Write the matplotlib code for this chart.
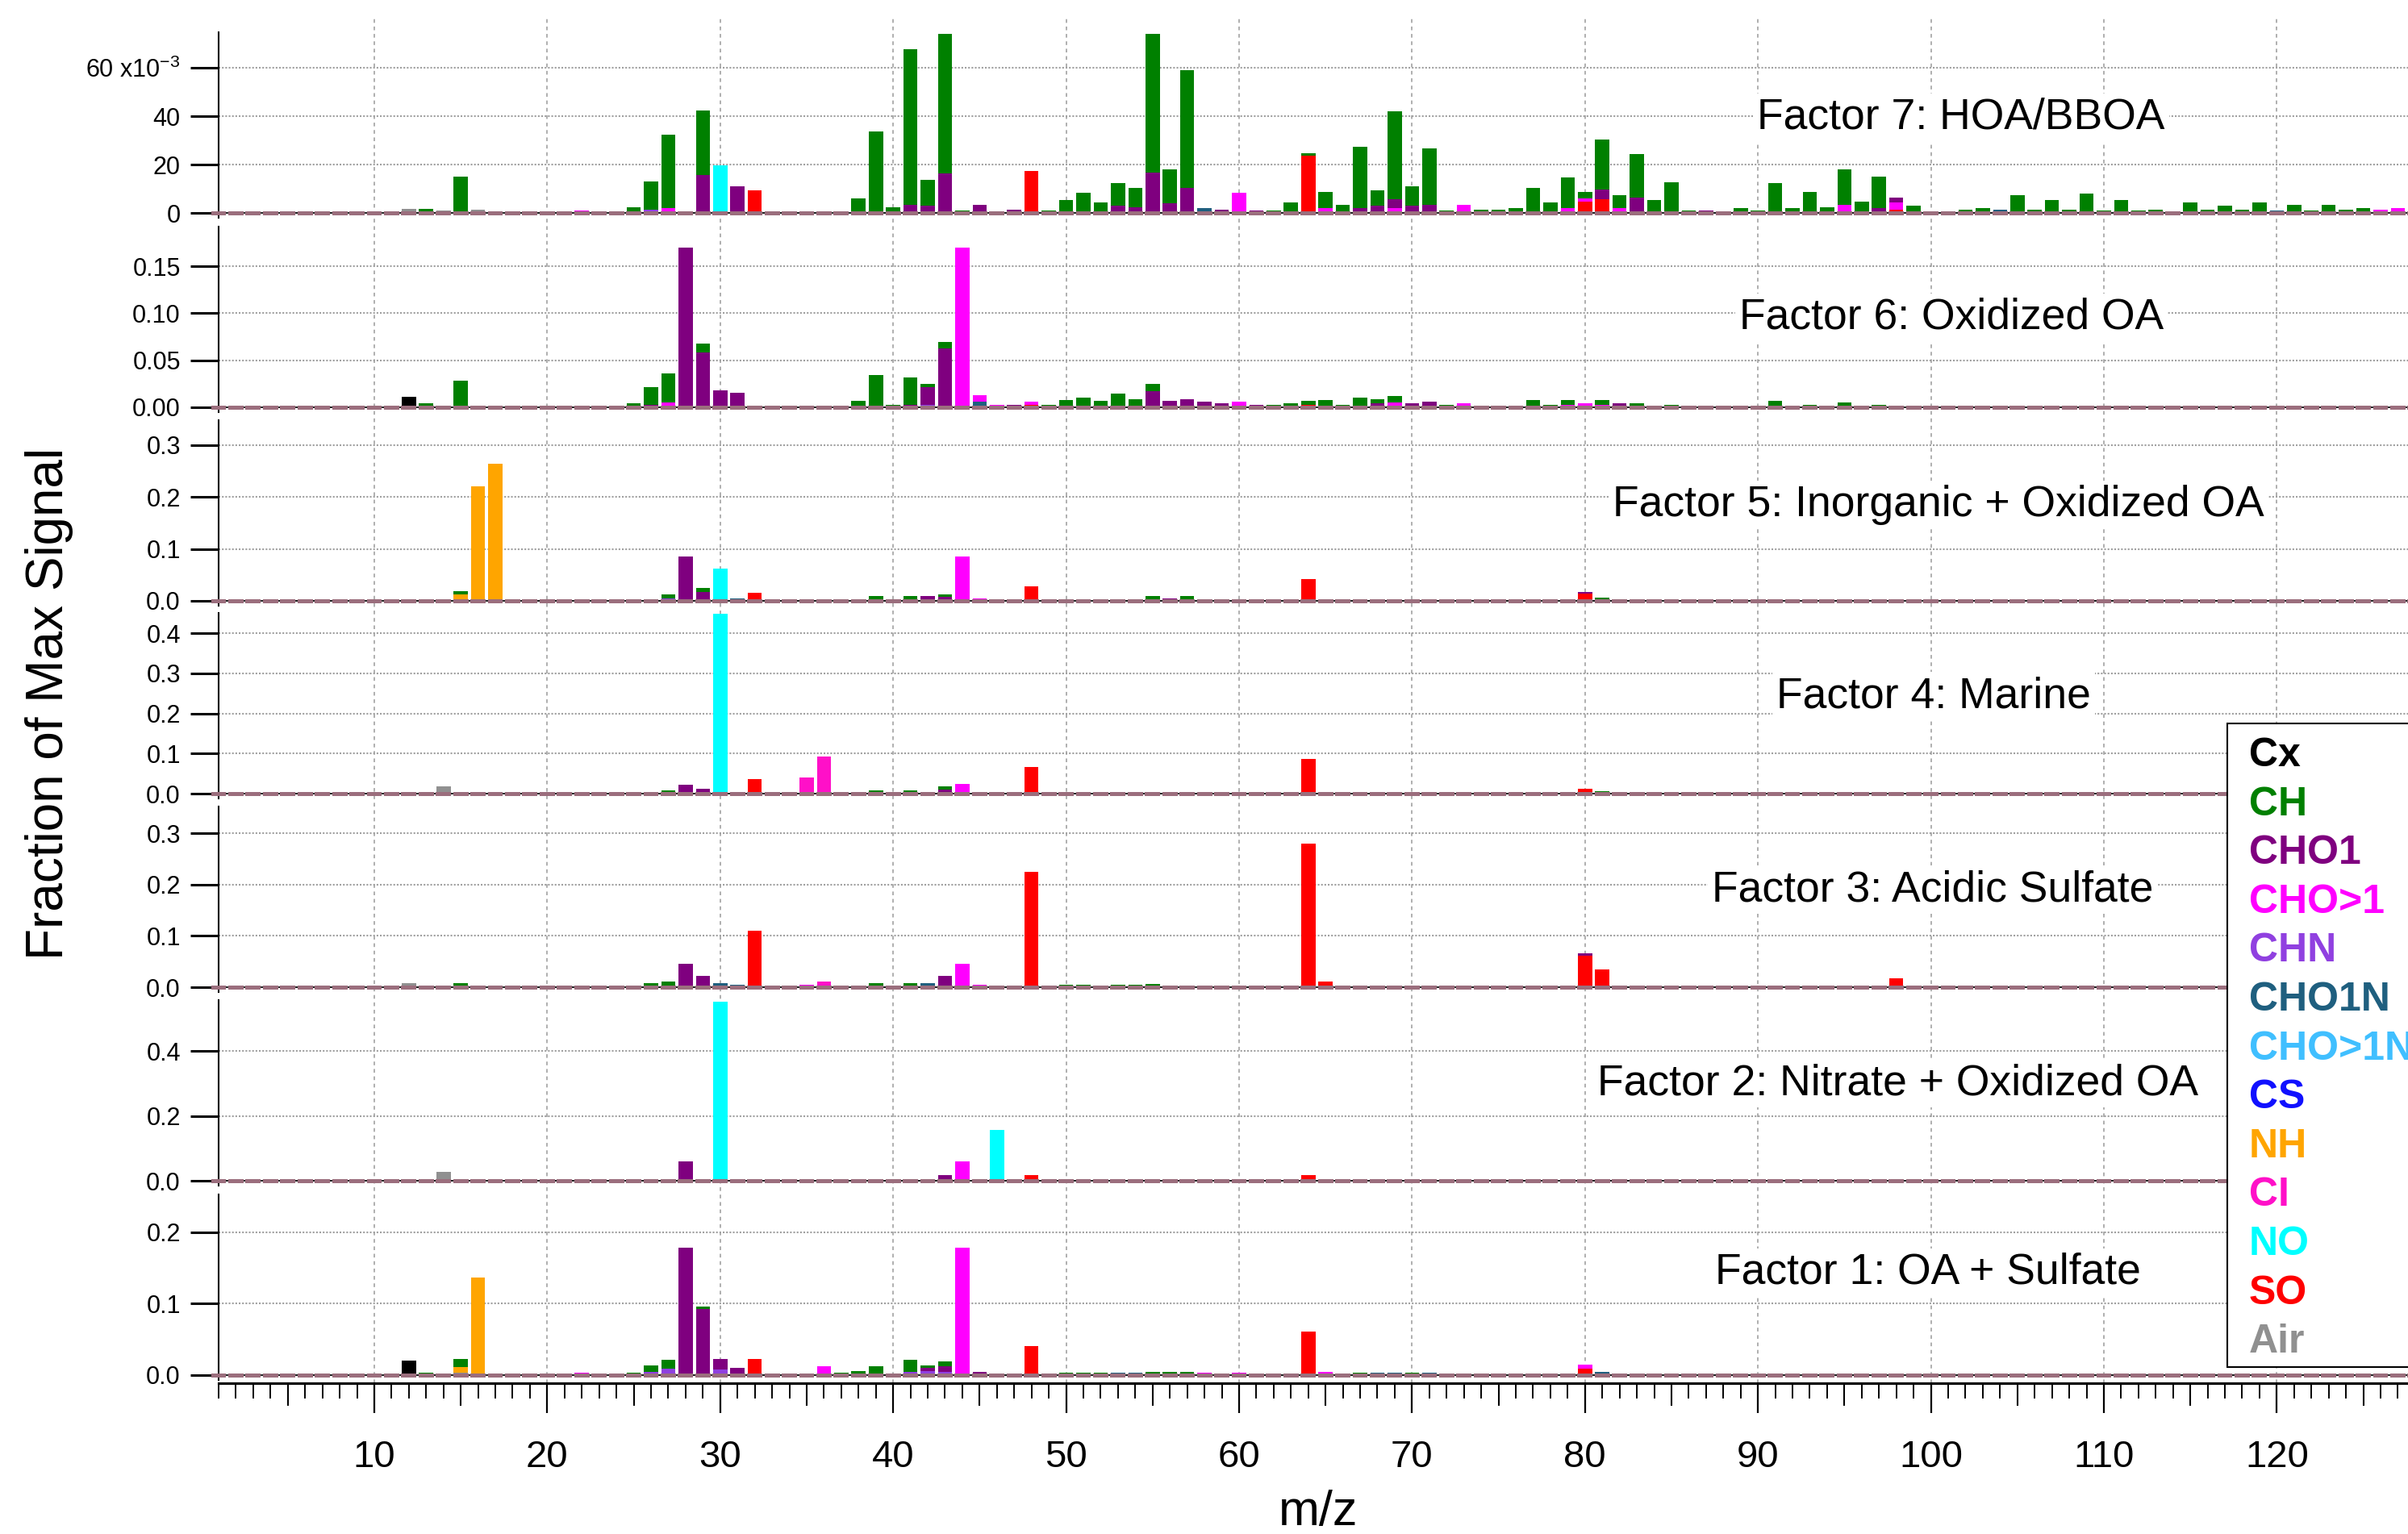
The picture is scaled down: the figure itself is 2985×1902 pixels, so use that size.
import numpy as np
import matplotlib
matplotlib.use('Agg')
import matplotlib.pyplot as plt
from matplotlib.patches import Rectangle

plt.rcParams['font.family'] = ['Liberation Sans', 'DejaVu Sans']
plt.rcParams['mathtext.fontset'] = 'custom'
plt.rcParams['mathtext.rm'] = 'Liberation Sans'

# ion families (legend order) and colours
families = ['Cx', 'CH', 'CHO1', 'CHO>1', 'CHN', 'CHO1N', 'CHO>1N', 'CS', 'NH', 'CI', 'NO', 'SO', 'Air']
family_colors = ['#000000', '#008000', '#7f007f', '#ff00ff', '#9040e0', '#1f5f7f', '#40bfff',
                 '#1010ff', '#ffa500', '#ff10c8', '#00ffff', '#ff0000', '#909090']
# bottom -> top stacking order
stack_order = ['Air', 'SO', 'NO', 'CI', 'NH', 'CS', 'CHO>1N', 'CHO1N', 'CHN', 'CHO>1', 'CHO1', 'CH', 'Cx']

# factor profiles: (m/z, family, fraction of max signal)
f7_peaks = [
	(12, 'Air', 0.0018), (13, 'CH', 0.0018), (14, 'Air', 0.001), (15, 'CH', 0.0151), (16, 'Air', 0.0015),
	(22, 'CHO>1', 0.001), (25, 'CH', 0.0025), (26, 'CHN', 0.0015), (26, 'CH', 0.0114),
	(27, 'CHO>1', 0.002), (27, 'CH', 0.0305), (29, 'CHO1', 0.0157), (29, 'CH', 0.0267),
	(30, 'NO', 0.0198), (31, 'CHO1', 0.011), (32, 'SO', 0.0095), (38, 'CH', 0.006), (39, 'CH', 0.0338),
	(40, 'CH', 0.0022), (41, 'CHO1', 0.0035), (41, 'CH', 0.0641), (42, 'CHO1', 0.003), (42, 'CH', 0.0107),
	(43, 'CHO1', 0.0162), (43, 'CH', 0.0578), (44, 'CH', 0.001), (45, 'CHO1', 0.0035), (47, 'CHO1', 0.0015),
	(48, 'SO', 0.0172), (49, 'CH', 0.001), (50, 'CH', 0.0052), (51, 'CH', 0.0082), (52, 'CH', 0.0044),
	(53, 'CHO1', 0.003), (53, 'CH', 0.0094), (54, 'CHO1', 0.0025), (54, 'CH', 0.0077),
	(55, 'CHO1', 0.0168), (55, 'CH', 0.0572), (56, 'CHO1', 0.004), (56, 'CH', 0.0141),
	(57, 'CHO1', 0.0104), (57, 'CH', 0.0486), (58, 'CHO1N', 0.002), (59, 'CHO1', 0.0015),
	(60, 'CHO>1', 0.0082), (61, 'CHO1', 0.001), (62, 'CH', 0.001), (63, 'CH', 0.0044),
	(64, 'SO', 0.0238), (64, 'CH', 0.001), (65, 'CHO>1', 0.002), (65, 'CH', 0.0068), (66, 'CH', 0.0035),
	(67, 'CHO1', 0.002), (67, 'CH', 0.0253), (68, 'CHO1', 0.003), (68, 'CH', 0.0065),
	(69, 'CHO>1', 0.002), (69, 'CHO1', 0.0037), (69, 'CH', 0.0362), (70, 'CHO1', 0.003), (70, 'CH', 0.008),
	(71, 'CHO1', 0.0035), (71, 'CH', 0.0232), (72, 'CH', 0.001), (73, 'CHO>1', 0.0035),
	(74, 'CH', 0.0015), (75, 'CH', 0.0015), (76, 'CH', 0.002), (77, 'CH', 0.0102), (78, 'CH', 0.0044),
	(79, 'CHO>1', 0.002), (79, 'CH', 0.0126), (80, 'SO', 0.0046), (80, 'CHO>1', 0.0015), (80, 'CH', 0.0027),
	(81, 'SO', 0.0057), (81, 'CHO1', 0.004), (81, 'CH', 0.0206), (82, 'CHO>1', 0.002), (82, 'CH', 0.0054),
	(83, 'CHO1', 0.0063), (83, 'CH', 0.0182), (84, 'CH', 0.0052), (85, 'CH', 0.0128), (86, 'CH', 0.001),
	(87, 'CHO1', 0.001), (89, 'CH', 0.002), (90, 'CH', 0.001), (91, 'CH', 0.0124), (92, 'CH', 0.002),
	(93, 'CH', 0.0087), (94, 'CH', 0.0025), (95, 'CHO>1', 0.0035), (95, 'CH', 0.0146), (96, 'CH', 0.0046),
	(97, 'CHO1', 0.002), (97, 'CH', 0.0131), (98, 'SO', 0.0015), (98, 'CHO1', 0.002), (98, 'CHO>1', 0.003),
	(99, 'CH', 0.003), (102, 'CH', 0.0015), (103, 'CH', 0.002), (104, 'CHO1N', 0.0015), (105, 'CH', 0.0072),
	(106, 'CH', 0.0015), (107, 'CH', 0.0052), (108, 'CH', 0.0015), (109, 'CH', 0.008), (110, 'CH', 0.001),
	(111, 'CH', 0.0052), (112, 'CH', 0.001), (113, 'CH', 0.0015), (115, 'CH', 0.0044), (116, 'CH', 0.0015),
	(117, 'CH', 0.003), (118, 'CH', 0.0015), (119, 'CH', 0.0044), (120, 'CHO1N', 0.001), (121, 'CH', 0.0035),
	(122, 'CH', 0.001), (123, 'CH', 0.0035), (124, 'CH', 0.0012), (125, 'CH', 0.002), (126, 'CHO>1', 0.0012),
	(127, 'CHO>1', 0.002),
]
f6_peaks = [
	(12, 'Cx', 0.0114), (13, 'CH', 0.004), (15, 'CHO>1', 0.001), (15, 'CH', 0.0276), (25, 'CH', 0.004),
	(26, 'CHO1', 0.003), (26, 'CH', 0.0184), (27, 'CHO>1', 0.005), (27, 'CH', 0.0307), (28, 'CHO1', 0.17),
	(29, 'CHO1', 0.0586), (29, 'CH', 0.009), (30, 'CHO1', 0.018), (31, 'CHO1', 0.0151), (32, 'SO', 0.002),
	(36, 'CHO>1', 0.001), (37, 'CH', 0.001), (38, 'CH', 0.0066), (39, 'CH', 0.0343), (40, 'CH', 0.003),
	(41, 'CHO1', 0.003), (41, 'CH', 0.0284), (42, 'CHN', 0.003), (42, 'CHO1', 0.0184), (42, 'CH', 0.0036),
	(43, 'CHO1', 0.0629), (43, 'CH', 0.0065), (44, 'CHO>1', 0.17), (45, 'CHO>1', 0.007), (45, 'CHO1N', 0.006),
	(46, 'CHO>1', 0.003), (47, 'CHO1', 0.003), (48, 'SO', 0.003), (48, 'CHO>1', 0.003), (49, 'CH', 0.003),
	(50, 'CH', 0.008), (51, 'CH', 0.0106), (52, 'CH', 0.0066), (53, 'CH', 0.0143), (54, 'CH', 0.0086),
	(55, 'CHO1', 0.017), (55, 'CH', 0.008), (56, 'CHO1', 0.0066), (57, 'CHO1', 0.0086), (58, 'CHO1', 0.006),
	(59, 'CHO1', 0.004), (60, 'CHO>1', 0.0057), (61, 'CHO1', 0.003), (62, 'CH', 0.003), (63, 'CH', 0.004),
	(64, 'SO', 0.003), (64, 'CH', 0.0036), (65, 'CH', 0.0077), (66, 'CH', 0.003), (67, 'CH', 0.01),
	(68, 'CHO1', 0.004), (68, 'CH', 0.0046), (69, 'CHO>1', 0.005), (69, 'CH', 0.007), (70, 'CHO1', 0.004),
	(71, 'CHO1', 0.006), (72, 'CH', 0.003), (73, 'CHO>1', 0.004), (74, 'CH', 0.002), (75, 'CH', 0.002),
	(76, 'CH', 0.002), (77, 'CH', 0.0077), (78, 'CH', 0.003), (79, 'CHO>1', 0.003), (79, 'CH', 0.0047),
	(80, 'CHO>1', 0.004), (81, 'CHO>1', 0.003), (81, 'CH', 0.0047), (82, 'CHO1', 0.004), (83, 'CH', 0.004),
	(84, 'CH', 0.002), (85, 'CH', 0.003), (87, 'CHO1', 0.002), (91, 'CH', 0.0071), (92, 'CH', 0.002),
	(93, 'CH', 0.003), (95, 'CHO>1', 0.002), (95, 'CH', 0.003), (96, 'CH', 0.002), (97, 'CH', 0.003),
	(98, 'CHO>1', 0.002), (103, 'CH', 0.002), (105, 'CH', 0.002), (107, 'CH', 0.002), (109, 'CH', 0.002),
	(111, 'CH', 0.002), (115, 'CH', 0.002), (117, 'CH', 0.002), (119, 'CH', 0.002), (121, 'CH', 0.002),
	(123, 'CH', 0.002), (127, 'CHO>1', 0.002),
]
f5_peaks = [
	(14, 'CHO>1', 0.002), (15, 'NH', 0.012), (15, 'CH', 0.006), (16, 'NH', 0.22), (17, 'NH', 0.264),
	(26, 'CH', 0.003), (27, 'CHN', 0.004), (27, 'CH', 0.0084), (28, 'CHO1', 0.0855), (29, 'CHO1', 0.0166),
	(29, 'CH', 0.0084), (30, 'NO', 0.0617), (31, 'CHO1N', 0.004), (32, 'SO', 0.0155), (37, 'CH', 0.003),
	(38, 'CH', 0.003), (39, 'CH', 0.0088), (40, 'CH', 0.003), (41, 'CHO1', 0.003), (41, 'CH', 0.0058),
	(42, 'CHO1', 0.0088), (43, 'CHO1', 0.008), (43, 'CH', 0.0044), (44, 'CHO>1', 0.0855), (45, 'CHO>1', 0.004),
	(48, 'SO', 0.028), (54, 'CH', 0.003), (55, 'CH', 0.0088), (56, 'CHO1', 0.004), (57, 'CH', 0.0088),
	(64, 'SO', 0.0425), (65, 'CHO>1', 0.003), (69, 'CH', 0.003), (71, 'CH', 0.003), (80, 'SO', 0.0136),
	(80, 'CHO1', 0.004), (81, 'CH', 0.006), (83, 'CH', 0.003), (85, 'CH', 0.003), (97, 'CH', 0.003),
	(98, 'CHO>1', 0.003),
]
f4_peaks = [
	(12, 'Air', 0.003), (14, 'Air', 0.019), (15, 'CH', 0.004), (26, 'CH', 0.003), (27, 'CH', 0.009),
	(28, 'CHO1', 0.023), (29, 'CHO1', 0.013), (30, 'NO', 0.448), (32, 'SO', 0.0356), (35, 'CI', 0.04),
	(36, 'CI', 0.0926), (39, 'CH', 0.009), (41, 'CH', 0.009), (42, 'CHO1N', 0.004), (43, 'CHO1', 0.01),
	(43, 'CH', 0.009), (44, 'CHO>1', 0.0235), (48, 'SO', 0.066), (53, 'CH', 0.003), (55, 'CHO1N', 0.004),
	(57, 'CH', 0.004), (64, 'SO', 0.087), (65, 'CH', 0.004), (67, 'CH', 0.003), (69, 'CH', 0.003),
	(79, 'CH', 0.003), (80, 'SO', 0.013), (81, 'CH', 0.006),
]
f3_peaks = [
	(12, 'Air', 0.008), (15, 'CH', 0.008), (24, 'CHO>1', 0.003), (26, 'CH', 0.008), (27, 'CH', 0.0115),
	(28, 'CHO1', 0.0455), (29, 'CHO1', 0.0215), (30, 'CHO1N', 0.008), (31, 'CHO1N', 0.004), (32, 'SO', 0.11),
	(35, 'CHO>1', 0.004), (36, 'CI', 0.0115), (39, 'CH', 0.008), (41, 'CH', 0.008), (42, 'CHO1N', 0.008),
	(43, 'CHO1', 0.0215), (44, 'CHO>1', 0.0455), (45, 'CHO>1', 0.004), (48, 'SO', 0.225), (50, 'CH', 0.004),
	(51, 'CH', 0.004), (53, 'CH', 0.004), (54, 'CH', 0.004), (55, 'CH', 0.007), (64, 'SO', 0.28),
	(65, 'SO', 0.0115), (67, 'CH', 0.003), (69, 'CH', 0.003), (77, 'CH', 0.003), (79, 'CH', 0.003),
	(80, 'SO', 0.062), (80, 'CHO1', 0.004), (81, 'SO', 0.035), (91, 'CH', 0.003), (98, 'SO', 0.018),
]
f2_peaks = [
	(12, 'Air', 0.004), (14, 'Air', 0.027), (15, 'CH', 0.005), (26, 'CH', 0.004), (27, 'CH', 0.004),
	(28, 'CHO1', 0.06), (29, 'CHO1N', 0.005), (30, 'NO', 0.552), (31, 'CHO1N', 0.005), (32, 'SO', 0.005),
	(39, 'CH', 0.004), (41, 'CH', 0.004), (42, 'CHO1N', 0.004), (43, 'CHO1', 0.0175), (44, 'CHO>1', 0.06),
	(45, 'CHO1N', 0.004), (46, 'NO', 0.158), (48, 'SO', 0.0175), (55, 'CHO1N', 0.005), (64, 'SO', 0.0175),
]
f1_peaks = [
	(12, 'Cx', 0.02), (13, 'CH', 0.003), (15, 'Air', 0.003), (15, 'NH', 0.0078), (15, 'CH', 0.012),
	(16, 'NH', 0.1366), (22, 'CHO>1', 0.003), (25, 'CH', 0.003), (26, 'CHN', 0.004), (26, 'CH', 0.0094),
	(27, 'CHN', 0.009), (27, 'CH', 0.012), (28, 'CHO1', 0.178), (29, 'CHO1', 0.0925), (29, 'CH', 0.003),
	(30, 'CHN', 0.008), (30, 'CHO1', 0.0148), (31, 'CHO1', 0.0104), (32, 'SO', 0.0225), (36, 'CHO>1', 0.012),
	(37, 'CH', 0.003), (38, 'CH', 0.006), (39, 'CH', 0.012), (41, 'CHN', 0.005), (41, 'CH', 0.017),
	(42, 'CHN', 0.006), (42, 'CHO1', 0.004), (42, 'CH', 0.004), (43, 'CHN', 0.004), (43, 'CHO1', 0.0088),
	(43, 'CH', 0.006), (44, 'CHO>1', 0.178), (45, 'CHO1', 0.005), (48, 'SO', 0.041), (50, 'CH', 0.003),
	(51, 'CH', 0.003), (52, 'CH', 0.003), (53, 'CHO1N', 0.003), (54, 'CHO1N', 0.003), (55, 'CH', 0.005),
	(56, 'CH', 0.005), (57, 'CH', 0.005), (58, 'CHO>1', 0.003), (60, 'CHO>1', 0.003), (64, 'SO', 0.061),
	(65, 'CHO>1', 0.004), (67, 'CH', 0.003), (68, 'CHO1N', 0.003), (69, 'CHO1N', 0.003), (70, 'CH', 0.003),
	(71, 'CHO1N', 0.003), (80, 'SO', 0.009), (80, 'CHO>1', 0.006), (81, 'CHO1N', 0.005), (98, 'CHO>1', 0.002),
]

# panels from top to bottom
factor_peaks = [f7_peaks, f6_peaks, f5_peaks, f4_peaks, f3_peaks, f2_peaks, f1_peaks]
factor_labels = ['Factor 7: HOA/BBOA', 'Factor 6: Oxidized OA', 'Factor 5: Inorganic + Oxidized OA',
                 'Factor 4: Marine', 'Factor 3: Acidic Sulfate', 'Factor 2: Nitrate + Oxidized OA',
                 'Factor 1: OA + Sulfate']
factor_ymax = [0.0747, 0.192, 0.348, 0.451, 0.352, 0.558, 0.253]
factor_yticks = [[0, 0.02, 0.04, 0.06], [0, 0.05, 0.10, 0.15], [0, 0.1, 0.2, 0.3], [0, 0.1, 0.2, 0.3, 0.4],
                 [0, 0.1, 0.2, 0.3], [0, 0.2, 0.4], [0, 0.1, 0.2]]
factor_yticklabels = [['0', '20', '40', '60 x10$^{\\mathregular{-3}}$'], ['0.00', '0.05', '0.10', '0.15'],
                      ['0.0', '0.1', '0.2', '0.3'], ['0.0', '0.1', '0.2', '0.3', '0.4'],
                      ['0.0', '0.1', '0.2', '0.3'], ['0.0', '0.2', '0.4'], ['0.0', '0.1', '0.2']]
mz_all = np.arange(1, 131)
mz_major = list(range(10, 130, 10))

# layout in pixels of the output image
W, H = 2985, 1902
DPI = 100
left_px = 271
xmin, xmax = 1, 128
px_per_mz = 21.44
zero_px = [264, 505, 745, 984, 1224, 1464, 1705]
label_x_px = [2431, 2419, 2403, 2397, 2396, 2353, 2390]
label_base_px = [160, 408, 640, 877, 1117, 1357, 1592]
xaxis_px = 1715

def fy(px):
	return 1 - px / H

left = left_px / W
width = (xmax - xmin) * px_per_mz / W
color_of = dict(zip(families, family_colors))

fig = plt.figure(figsize=(W / DPI, H / DPI), dpi=DPI)

# background axes with vertical grid spanning all panels
bg = fig.add_axes([left, fy(xaxis_px), width, (xaxis_px - 23) / H], zorder=-1)
bg.set_xlim(xmin, xmax)
bg.set_ylim(0, 1)
bg.axis('off')
for xv in mz_major:
	bg.axvline(xv, color='#9a9a9a', lw=1.1, linestyle=(0, (3, 3)))

for i, peaks in enumerate(factor_peaks):
	z = zero_px[i]
	ax = fig.add_axes([left, fy(z + 6), width, 230 / H])
	ax.set_facecolor('none')
	u = factor_ymax[i] / 224
	ax.set_xlim(xmin, xmax)
	ax.set_ylim(-6 * u, factor_ymax[i])

	heights = {f: np.zeros(len(mz_all)) for f in families}
	for mz, fam, val in peaks:
		heights[fam][mz - 1] += val
	bottom = np.zeros(len(mz_all))
	for fam in stack_order:
		h = heights[fam]
		m = h > 0
		if m.any():
			ax.bar(mz_all[m], h[m], bottom=bottom[m], width=0.82, color=color_of[fam], linewidth=0, zorder=3)
		bottom += h

	# baseline of unresolved small ions at every m/z
	ax.axhline(0, color='black', lw=1.2, zorder=3.5)
	ax.bar(mz_all, 5 * u, bottom=-2.5 * u, width=0.88, color='#9b6e7d', linewidth=0, zorder=4, clip_on=False)

	ax.set_yticks(factor_yticks[i], factor_yticklabels[i])
	ax.yaxis.grid(True, linestyle=(0, (1, 1)), color='#a0a0a0', lw=1.5)
	ax.set_axisbelow(True)
	ax.set_xticks([])
	for s in ['top', 'right', 'bottom']:
		ax.spines[s].set_visible(False)
	ax.spines['left'].set_linewidth(1.5)
	ax.tick_params(axis='y', direction='out', length=25, width=2.2, labelsize=22, pad=9)

	ax.text(label_x_px[i] / W, fy(label_base_px[i]), factor_labels[i], transform=fig.transFigure,
	        ha='center', va='baseline', fontsize=38.5, zorder=2.5,
	        bbox=dict(facecolor='white', edgecolor='none', pad=4))

# shared m/z axis
axx = fig.add_axes([left, fy(xaxis_px), width, 1 / H])
axx.set_facecolor('none')
axx.set_xlim(xmin, xmax)
axx.set_yticks([])
for s in ['top', 'right', 'left']:
	axx.spines[s].set_visible(False)
axx.spines['bottom'].set_linewidth(2.2)
axx.set_xticks(mz_major)
axx.set_xticks(mz_all[mz_all <= xmax], minor=True)
axx.tick_params(axis='x', which='major', direction='out', length=26.6, width=1.6, labelsize=34, pad=24)
axx.tick_params(axis='x', which='minor', direction='out', length=13.7, width=1.4)
sec = axx.secondary_xaxis('bottom')
sec.set_xticks([v - 5 for v in mz_major] + [125])
sec.tick_params(axis='x', direction='out', length=20, width=1.5, labelbottom=False)
sec.spines['bottom'].set_linewidth(2.2)

fig.text(61 / W, fy(872), 'Fraction of Max Signal', rotation=90, ha='center', va='center', fontsize=46)
fig.text(1634 / W, fy(1875), 'm/z', ha='center', va='center', fontsize=44)

# legend: coloured family names in a box cut by the right edge
fig.patches.append(Rectangle((2761 / W, fy(1695)), (3000 - 2761) / W, (1695 - 897) / H,
                             transform=fig.transFigure, facecolor='white', edgecolor='black',
                             linewidth=1.5, zorder=10))
for k, (name, col) in enumerate(zip(families, family_colors)):
	fig.text(2788 / W, fy(937 + k * 60.6), name, color=col, fontsize=36, fontweight='bold',
	         ha='left', va='center', zorder=11)

fig.savefig('out.png', dpi=DPI)
